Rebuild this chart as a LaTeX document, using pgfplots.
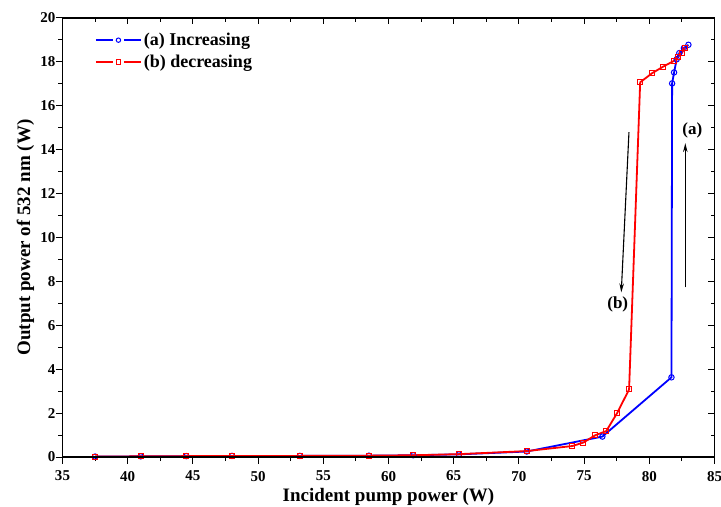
\documentclass[border=0pt]{standalone}
\usepackage{fontspec}
\setmainfont{Liberation Serif}
\usepackage{pgfplots}
\pgfplotsset{compat=1.18}
\usetikzlibrary{arrows.meta}
\pgfplotstableread{
x y
37.5 0.02
41.0 0.03
44.5 0.04
48.0 0.05
53.2 0.05
58.5 0.06
61.9 0.08
65.4 0.12
70.6 0.25
76.4 0.93
81.7 3.63
81.75 17.02
81.9 17.52
82.1 18.12
82.3 18.40
82.65 18.63
83.0 18.78
}\incr
\pgfplotstableread{
x y
37.5 0.02
41.0 0.03
44.5 0.04
48.0 0.05
53.2 0.05
58.5 0.06
61.9 0.08
65.4 0.13
70.6 0.27
74.1 0.50
74.95 0.66
75.85 0.99
76.7 1.18
77.55 2.02
78.45 3.08
79.3 17.07
80.2 17.48
81.05 17.78
81.9 18.05
82.2 18.22
82.5 18.42
82.75 18.65
}\decr
\begin{document}
\begin{tikzpicture}
\pgfplotsset{
  myaxis/.style={
    scale only axis, width=652pt, height=439pt,
    xmin=35, xmax=85, ymin=0, ymax=20,
    xtick={35,40,...,85}, ytick={0,2,...,20},
    minor x tick num=1, minor y tick num=1,
    major tick length=6.5pt, minor tick length=4pt,
    every tick/.style={black, line width=1pt},
    axis line style={line width=1.1pt},
  }
}
\begin{axis}[myaxis, name=main,
  tick align=outside, xtick pos=bottom, ytick pos=left,
  /pgf/number format/assume math mode=true,
  tick label style={font=\bfseries\fontsize{15}{17}\selectfont},
  xticklabel style={yshift=-4pt},
  yticklabel style={xshift=3pt},
  xlabel={\bfseries\fontsize{19}{21}\selectfont Incident pump power (W)},
  ylabel={\bfseries\fontsize{19}{21}\selectfont Output power of 532 nm (W)},
  xlabel style={at={(axis description cs:0.5,-0.101)}, anchor=base},
  ylabel style={at={(axis description cs:-0.0498,0.5)}, anchor=base},
  legend style={draw=none, fill=none, at={(axis description cs:0.045,0.975)}, anchor=north west,
    font=\bfseries\fontsize{18}{20}\selectfont, row sep=4pt},
  legend cell align=left,
  legend image code/.code={
    \draw[#1, mark=none, line width=1.8pt] (0pt,0pt) -- (17pt,0pt);
    \draw[#1, mark=none, line width=1.8pt] (28pt,0pt) -- (45pt,0pt);
    \draw[#1, only marks, mark size=2.2pt] plot coordinates {(22.5pt,0pt)};
  },
]
\addplot[blue, line width=1.8pt, mark=o, mark size=2.7pt, mark options={fill=white, line width=1pt}] table {\incr};
\addlegendentry{(a) Increasing}
\addplot[red, line width=1.8pt, mark=square, mark size=2.5pt, mark options={fill=white, line width=1pt}] table {\decr};
\addlegendentry{(b) decreasing}
\draw[-{Stealth[length=9pt,width=4.5pt]}, line width=1.1pt] (axis cs:78.44,14.8) -- (axis cs:77.85,7.5);
\draw[-{Stealth[length=9pt,width=4.5pt]}, line width=1.1pt] (axis cs:82.76,7.73) -- (axis cs:82.76,14.3);
\node[font=\bfseries\fontsize{17}{19}\selectfont] at (axis cs:77.58,6.97) {(b)};
\node[font=\bfseries\fontsize{17}{19}\selectfont] at (axis cs:83.3,14.9) {(a)};
\end{axis}
\begin{axis}[myaxis,
  tick align=inside, xtick pos=top, ytick pos=right,
  xticklabels={}, yticklabels={},
]
\end{axis}
\pgfresetboundingbox
\useasboundingbox ([shift={(-62.5pt,-49pt)}]main.south west) rectangle ([shift={(6.5pt,18pt)}]main.north east);
\end{tikzpicture}
\end{document}
